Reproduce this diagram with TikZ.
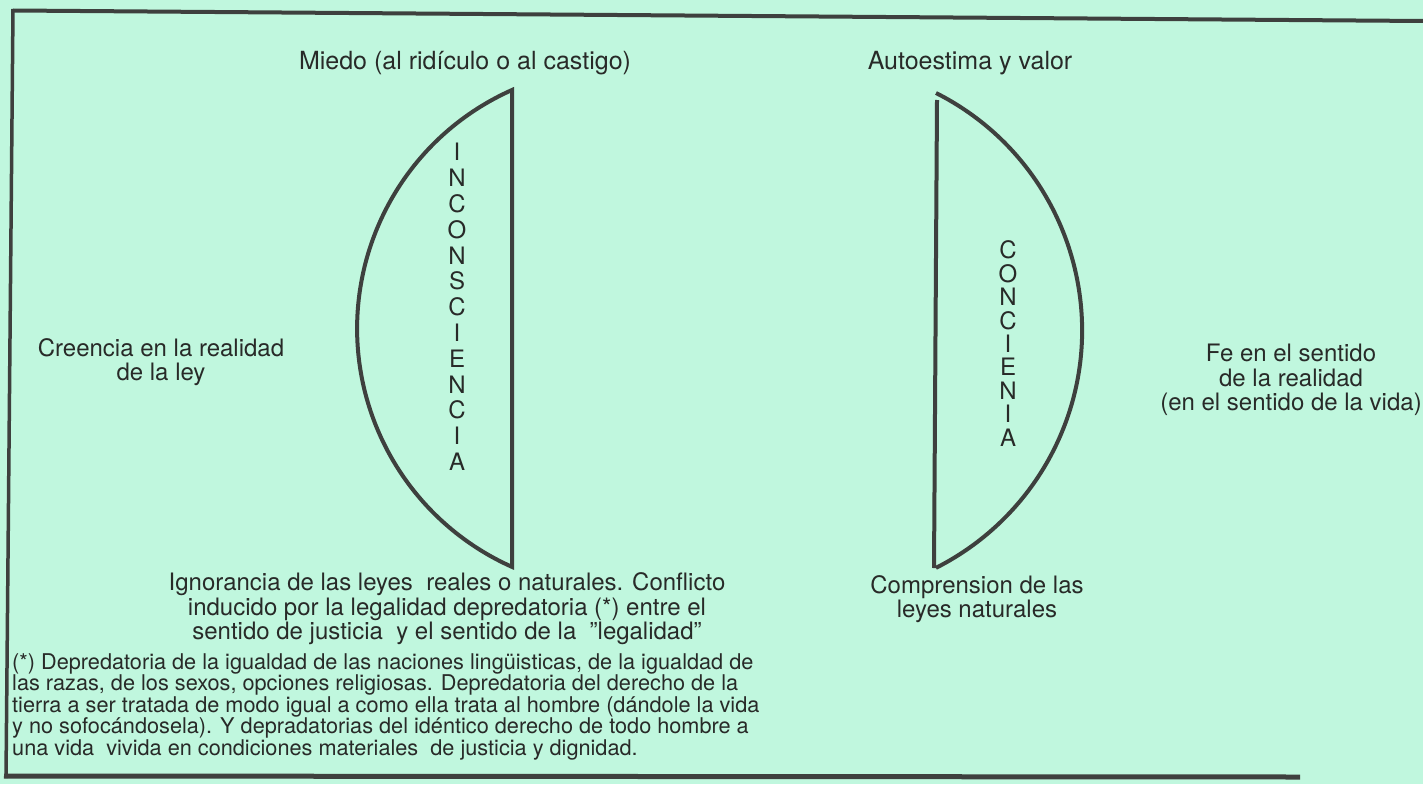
\documentclass[tikz,border=0pt]{standalone}
\usepackage{fontspec}
\setmainfont{TeX Gyre Heros}
\definecolor{mint}{RGB}{192,247,222}
\definecolor{ink}{RGB}{40,42,40}
\definecolor{frame}{RGB}{62,64,62}
\tikzset{
  lbl/.style={text=ink, inner sep=0pt, align=center, font=\fontsize{24}{24.5}\selectfont},
  toplbl/.style={text=ink, inner sep=0pt, align=center, font=\fontsize{25}{25}\selectfont},
  vert/.style={text=ink, inner sep=0pt, align=center},
  note/.style={text=ink, inner sep=0pt, align=left, font=\fontsize{21.7}{19.8}\selectfont},
  lens/.style={draw=frame, line width=4pt},
  framel/.style={draw=frame, line width=4pt},
}
\begin{document}
\begin{tikzpicture}[x=1pt,y=-1pt]
\useasboundingbox (0,0) rectangle (1423,784);
\fill[mint] (0,0) rectangle (1423,784);
% frame
\draw[framel] (13,10.5) -- (1423,21);
\draw[framel, line width=3.5pt] (13,9) -- (6,778);
\draw[framel, line width=5pt] (4,776) -- (1300,777);
% left lens
\draw[lens, line join=miter] (512,90) arc[start angle=246, end angle=114, radius=261] -- cycle;
% right lens
\draw[lens] (936,93) arc[start angle=-63.2, end angle=63.2, radius=266];
\draw[lens] (937,100) -- (934,568);
% texts
\node[toplbl] (miedo) at (465,63) {Miedo (al ridículo o al castigo)};
\node[toplbl] (auto) at (970,63) {Autoestima y valor};
\node[lbl] (creencia) at (161,362) {Creencia en la realidad\\de la ley};
\node[lbl] (fe) at (1291,380) {Fe en el sentido\\de la realidad\\(en el sentido de la vida)};
\node[lbl] (ignor) at (447,609) {Ignorancia de las leyes\ \ reales o naturales. Conflicto\\inducido por la legalidad depredatoria (*) entre el\\sentido de justicia\ \ y el sentido de la\ \ "legalidad"};
\node[lbl] (compr) at (977,599) {Comprension de las\\leyes naturales};
\node[vert, font=\fontsize{24}{25.8}\selectfont] (incon) at (457,307) {I\\N\\C\\O\\N\\S\\C\\I\\E\\N\\C\\I\\A};
\node[vert, font=\fontsize{24}{23.4}\selectfont] (conc) at (1008,343.5) {C\\O\\N\\C\\I\\E\\N\\I\\A};
\node[note, anchor=north west] (nota) at (12,653) {(*) Depredatoria de la igualdad de las naciones lingüisticas, de la igualdad de\\las razas, de los sexos, opciones religiosas. Depredatoria del derecho de la\\tierra a ser tratada de modo igual a como ella trata al hombre (dándole la vida\\y no sofocándosela). Y depradatorias del idéntico derecho de todo hombre a\\una vida\ \ vivida en condiciones materiales\ \ de justicia y dignidad.};
\end{tikzpicture}
\end{document}
